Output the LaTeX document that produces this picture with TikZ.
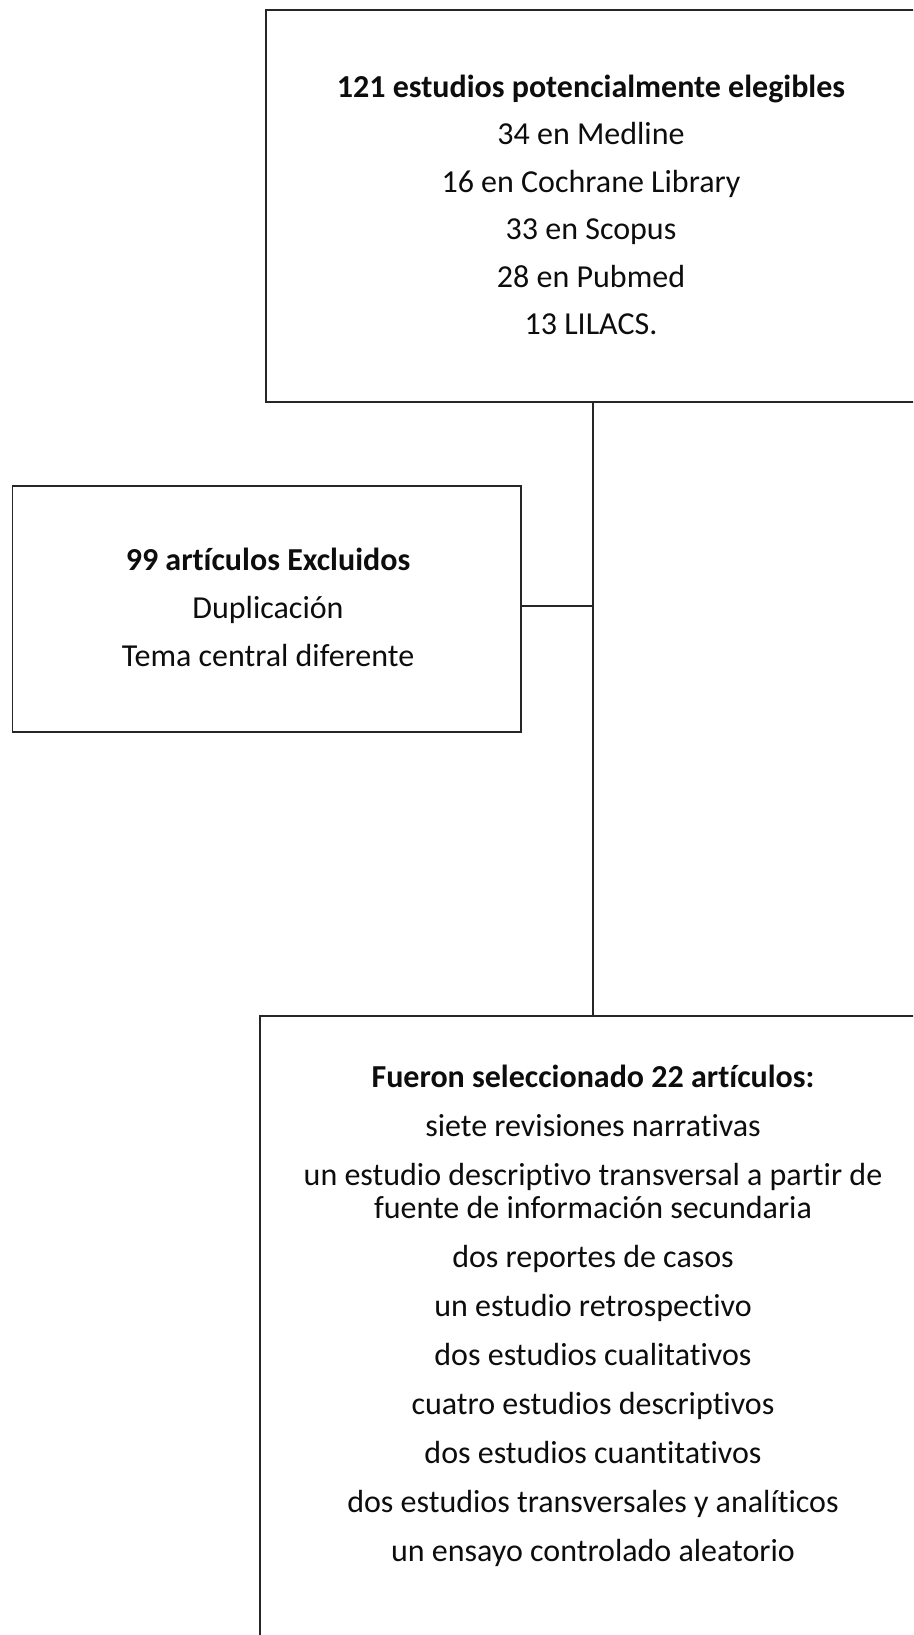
\documentclass[tikz,border=0pt]{standalone}
\usepackage{fontspec}
\setmainfont[Ligatures=NoCommon]{Carlito}
\begin{document}
\begin{tikzpicture}[x=1pt,y=-1pt,
  box/.style={draw=black!85, line width=1.7pt, rectangle, inner sep=0pt},
  txt/.style={align=center, inner sep=0pt, font=\fontsize{32}{33}\selectfont, text=black!95},
  link/.style={draw=black!85, line width=1.7pt}]
\useasboundingbox (0,0) rectangle (913,1635);
\clip (0,0) rectangle (913,1635);
% boxes
\node[box, minimum width=674pt, minimum height=392pt] (top) at (603,206) {};
\node[box, minimum width=508.5pt, minimum height=246pt] (excl) at (266.75,609) {};
\node[box, minimum width=680pt, minimum height=644pt] (sel) at (599.75,1338) {};
% texts
\node[txt] (toptxt) at (591,205) {\textbf{121 estudios potencialmente elegibles}\\[14.5pt]
34 en Medline\\[14.5pt]
16 en Cochrane Library\\[14.5pt]
33 en Scopus\\[14.5pt]
28 en Pubmed\\[14.5pt]
13 LILACS.};
\node[txt] (excltxt) at (268,607) {\textbf{99 artículos Excluidos}\\[15pt]
Duplicación\\[15pt]
Tema central diferente};
\node[txt] (seltxt) at (593,1316) {\textbf{Fueron seleccionado 22 artículos:}\\[16pt]
siete revisiones narrativas\\[16pt]
un estudio descriptivo transversal a partir de\\
fuente de información secundaria\\[16pt]
dos reportes de casos\\[16pt]
un estudio retrospectivo\\[16pt]
dos estudios cualitativos\\[16pt]
cuatro estudios descriptivos\\[16pt]
dos estudios cuantitativos\\[16pt]
dos estudios transversales y analíticos\\[16pt]
un ensayo controlado aleatorio};
% connectors
\coordinate (j) at (593,606);
\draw[link] (top.south -| j) -- (sel.north -| j);
\draw[link] (excl.east |- j) -- (j);
\end{tikzpicture}
\end{document}
